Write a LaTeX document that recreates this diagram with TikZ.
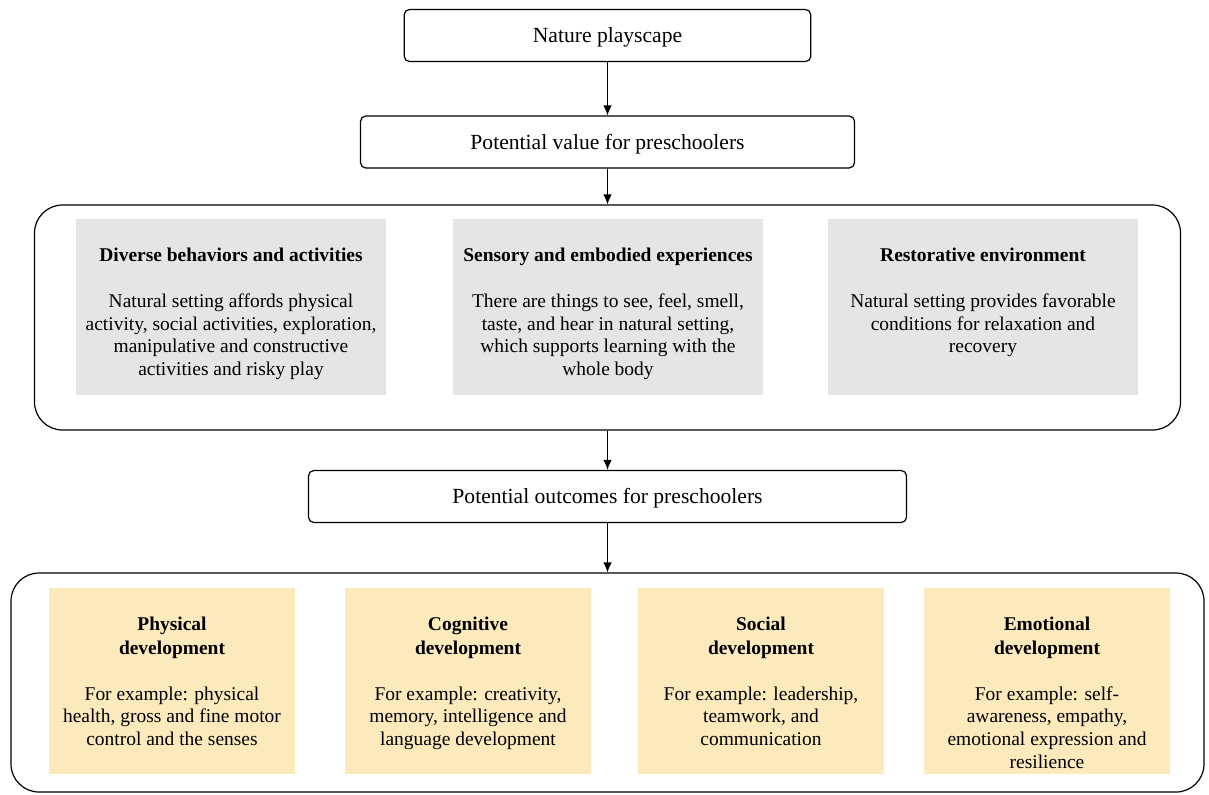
\documentclass[tikz,border=0pt]{standalone}
\usepackage{fontspec}
\setmainfont{Liberation Serif}
\usetikzlibrary{arrows.meta}
\definecolor{cardgray}{RGB}{229,229,229}
\definecolor{cardyellow}{RGB}{252,234,188}
% card text: width, height, title, body
\newcommand{\cardtext}[4]{\begin{minipage}[c][#2][t]{#1}\centering\vspace*{21.8pt}{\bfseries\baselineskip=18pt #3\par}\vspace{17.5pt}#4\end{minipage}}
\tikzset{
  stage/.style={draw, rounded corners=4pt, line width=0.9pt, minimum height=39pt, text height=12pt, text depth=1pt, font=\fontsize{16.2}{19}\selectfont},
  panel/.style={draw, rounded corners=21pt, line width=0.9pt, inner sep=0pt},
  valuecard/.style={fill=cardgray, inner sep=0pt, font=\fontsize{14.6}{17}\selectfont},
  outcomecard/.style={fill=cardyellow, inner sep=0pt, font=\fontsize{14.6}{17}\selectfont},
  flow/.style={-{Latex[length=7.5pt,width=6.5pt]}, line width=1pt}
}
\begin{document}
\begin{tikzpicture}[x=0.75pt,y=-0.75pt]
\useasboundingbox (0,0) rectangle (1209,794);
% top of the chain
\node[stage, minimum width=305pt] (nature) at (607.5,35.5) {Nature playscape};
\node[stage, minimum width=370.5pt] (value) at (607.5,142) {Potential value for preschoolers};
% potential value
\node[panel, minimum width=859.5pt, minimum height=168.75pt] (valuepanel) at (607.5,317.5) {};
\node[valuecard] (diverse) at (231,307) {\cardtext{232.5pt}{132pt}{Diverse behaviors and activities}{Natural setting affords physical\\ activity, social activities, exploration,\\ manipulative and constructive\\ activities and risky play}};
\node[valuecard] (sensory) at (608,307) {\cardtext{232.5pt}{132pt}{Sensory and embodied experiences}{There are things to see, feel, smell,\\ taste, and hear in natural setting,\\ which supports learning with the\\ whole body}};
\node[valuecard] (restore) at (983,307) {\cardtext{232.5pt}{132pt}{Restorative environment}{Natural setting provides favorable\\ conditions for relaxation and\\ recovery}};
% potential outcomes
\node[stage, minimum width=448.5pt] (outcomes) at (607.5,496.5) {Potential outcomes for preschoolers};
\node[panel, minimum width=894.75pt, minimum height=164.25pt] (outcomepanel) at (607.5,682.5) {};
\node[outcomecard] (physical) at (172,680.5) {\cardtext{184pt}{139.5pt}{Physical\\ development}{For example: physical\\ health, gross and fine motor\\ control and the senses}};
\node[outcomecard] (cognitive) at (468,680.5) {\cardtext{184pt}{139.5pt}{Cognitive\\ development}{For example: creativity,\\ memory, intelligence and\\ language development}};
\node[outcomecard] (social) at (761,680.5) {\cardtext{184pt}{139.5pt}{Social\\ development}{For example: leadership,\\ teamwork, and\\ communication}};
\node[outcomecard] (emotional) at (1047,680.5) {\cardtext{184pt}{139.5pt}{Emotional\\ development}{For example: self-\\ awareness, empathy,\\ emotional expression and\\ resilience}};
% arrows
\draw[flow] (nature) -- (value);
\draw[flow] (value) -- (valuepanel);
\draw[flow] (valuepanel) -- (outcomes);
\draw[flow] (outcomes) -- (outcomepanel);
\end{tikzpicture}
\end{document}
